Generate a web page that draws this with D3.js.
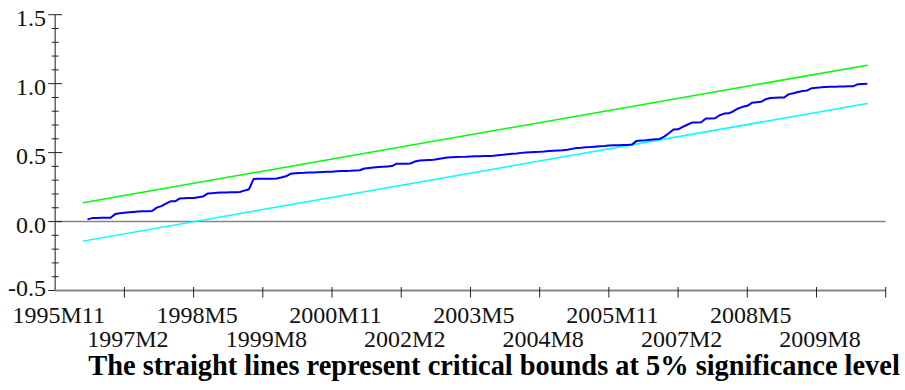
<!DOCTYPE html>
<html>
<head>
<meta charset="utf-8">
<script src="https://cdn.jsdelivr.net/npm/d3@7"></script>
<style>
  html, body { margin: 0; padding: 0; background: #fff; }
  svg text { font-family: "Liberation Serif", "DejaVu Serif", serif; }
</style>
</head>
<body>
<svg id="chart" width="905" height="390"></svg>
<script>
// Sample span of the horizontal axis (monthly periods)
const axisStart = "1995M11";
const axisEnd = "2010M11";

// Labelled period ticks, every 15 months, alternating on two rows
const periodTicks = ["1995M11", "1997M2", "1998M5", "1999M8", "2000M11", "2002M2",
                     "2003M5", "2004M8", "2005M11", "2007M2", "2008M5", "2009M8"];

// Vertical axis ticks
const yMajorTicks = [-0.5, 0.0, 0.5, 1.0, 1.5];
const yTickLabels = ["-0.5", "0.0", "0.5", "1.0", "1.5"];

// CUSUM of squares statistic, monthly from 1996M6 to 2010M7
const cusumStart = "1996M6";
const cusumSq = [
  0.016, 0.025, 0.026, 0.027, 0.027, 0.028, 0.054, 0.060, 0.064, 0.068,
  0.070, 0.072, 0.074, 0.075, 0.076, 0.101, 0.112, 0.130, 0.147, 0.147,
  0.168, 0.169, 0.170, 0.171, 0.176, 0.181, 0.203, 0.206, 0.208, 0.210,
  0.211, 0.212, 0.213, 0.214, 0.224, 0.234, 0.309, 0.310, 0.310, 0.311,
  0.311, 0.312, 0.320, 0.328, 0.346, 0.350, 0.352, 0.353, 0.355, 0.356,
  0.358, 0.360, 0.361, 0.362, 0.364, 0.366, 0.367, 0.368, 0.370, 0.372,
  0.385, 0.389, 0.392, 0.395, 0.398, 0.400, 0.402, 0.420, 0.420, 0.420,
  0.421, 0.436, 0.442, 0.444, 0.446, 0.448, 0.454, 0.459, 0.464, 0.467,
  0.468, 0.469, 0.470, 0.472, 0.473, 0.474, 0.475, 0.476, 0.478, 0.481,
  0.484, 0.488, 0.491, 0.494, 0.498, 0.501, 0.503, 0.505, 0.506, 0.508,
  0.511, 0.513, 0.515, 0.517, 0.521, 0.527, 0.533, 0.535, 0.538, 0.540,
  0.543, 0.546, 0.548, 0.551, 0.553, 0.554, 0.555, 0.556, 0.558, 0.585,
  0.588, 0.590, 0.593, 0.596, 0.599, 0.616, 0.640, 0.667, 0.669, 0.686,
  0.702, 0.718, 0.719, 0.720, 0.747, 0.748, 0.749, 0.771, 0.783, 0.785,
  0.800, 0.820, 0.832, 0.839, 0.861, 0.865, 0.868, 0.887, 0.896, 0.898,
  0.899, 0.900, 0.924, 0.930, 0.940, 0.946, 0.951, 0.967, 0.970, 0.973,
  0.975, 0.977, 0.978, 0.979, 0.980, 0.981, 0.982, 0.996, 0.998, 1.000
];

// 5% critical bounds (straight lines between the first and last period)
const boundPeriods = ["1996M5", "2010M7"];
const upperBound = [0.137, 1.134];
const lowerBound = [-0.142, 0.856];

const caption = "The straight lines represent critical bounds at 5% significance level";

// ---- helpers ----
function monthIndex(p) {
  const [y, m] = p.split("M").map(Number);
  return y * 12 + (m - 1);
}
const m0 = monthIndex(axisStart);
const rel = p => monthIndex(p) - m0;

// ---- scales ----
const svg = d3.select("#chart");
const x = d3.scaleLinear().domain([0, rel(axisEnd)]).range([55.2, 885.7]);
const y = d3.scaleLinear().domain([-0.5, 1.5]).range([290.5, 14.7]);

const axisColor = "#858585";
const tickColor = "#222";

// zero reference line
svg.append("line")
  .attr("x1", x(0)).attr("x2", x(rel(axisEnd)))
  .attr("y1", y(0)).attr("y2", y(0))
  .attr("stroke", axisColor).attr("stroke-width", 1.6);

// ---- vertical axis ----
svg.append("line")
  .attr("x1", x(0)).attr("x2", x(0))
  .attr("y1", y(1.5)).attr("y2", y(-0.5))
  .attr("stroke", "#5a5a5a").attr("stroke-width", 1.4);

const yMinor = d3.range(-5, 16).map(v => v / 10).filter(v => !yMajorTicks.some(t => Math.abs(t - v) < 1e-9));
svg.append("g").selectAll("line").data(yMinor).join("line")
  .attr("x1", x(0) - 3.5).attr("x2", x(0) + 3.5)
  .attr("y1", d => y(d)).attr("y2", d => y(d))
  .attr("stroke", tickColor).attr("stroke-width", 1);
svg.append("g").selectAll("line").data(yMajorTicks).join("line")
  .attr("x1", x(0) - 7).attr("x2", x(0) + 7)
  .attr("y1", d => y(d)).attr("y2", d => y(d))
  .attr("stroke", tickColor).attr("stroke-width", 1);

svg.append("g").selectAll("text").data(yMajorTicks).join("text")
  .attr("x", 46)
  .attr("y", d => Math.min(y(d) + 11, y(-0.5) + 5))
  .attr("text-anchor", "end")
  .attr("font-size", 24)
  .attr("fill", "#111")
  .text((d, i) => yTickLabels[i]);

// ---- horizontal axis ----
svg.append("line")
  .attr("x1", x(0)).attr("x2", x(rel(axisEnd)))
  .attr("y1", y(-0.5)).attr("y2", y(-0.5))
  .attr("stroke", axisColor).attr("stroke-width", 1.8);

const xTickPos = d3.range(15, rel(axisEnd) + 1, 15);
svg.append("g").selectAll("line").data(xTickPos).join("line")
  .attr("x1", d => x(d)).attr("x2", d => x(d))
  .attr("y1", y(-0.5) - 3.5).attr("y2", y(-0.5) + 7)
  .attr("stroke", tickColor).attr("stroke-width", 1);

svg.append("g").selectAll("text").data(periodTicks).join("text")
  .attr("x", d => x(rel(d)) + 3.5)
  .attr("y", (d, i) => i % 2 === 0 ? 322.5 : 346.5)
  .attr("text-anchor", "middle")
  .attr("font-size", 24)
  .attr("fill", "#111")
  .text(d => d);

// ---- critical bounds ----
const straight = d3.line().x(d => x(rel(d[0]))).y(d => y(d[1]));
svg.append("path")
  .attr("d", straight(boundPeriods.map((p, i) => [p, upperBound[i]])))
  .attr("fill", "none").attr("stroke", "#00ff00").attr("stroke-width", 1.5);
svg.append("path")
  .attr("d", straight(boundPeriods.map((p, i) => [p, lowerBound[i]])))
  .attr("fill", "none").attr("stroke", "#00ffff").attr("stroke-width", 1.5);

// ---- CUSUM of squares ----
const s0 = rel(cusumStart);
const cusumLine = d3.line().x((d, i) => x(s0 + i)).y(d => y(d));
svg.append("path")
  .attr("d", cusumLine(cusumSq))
  .attr("fill", "none").attr("stroke", "#0000ff").attr("stroke-width", 2)
  .attr("stroke-linejoin", "round");

// ---- caption ----
const cap = svg.append("text")
  .attr("x", 494).attr("y", 375)
  .attr("text-anchor", "middle")
  .attr("font-size", 22)
  .attr("font-weight", "bold")
  .attr("fill", "#000")
  .text(caption);
const w = cap.node().getComputedTextLength();
cap.attr("font-size", 22 * 812 / w);
</script>
</body>
</html>
